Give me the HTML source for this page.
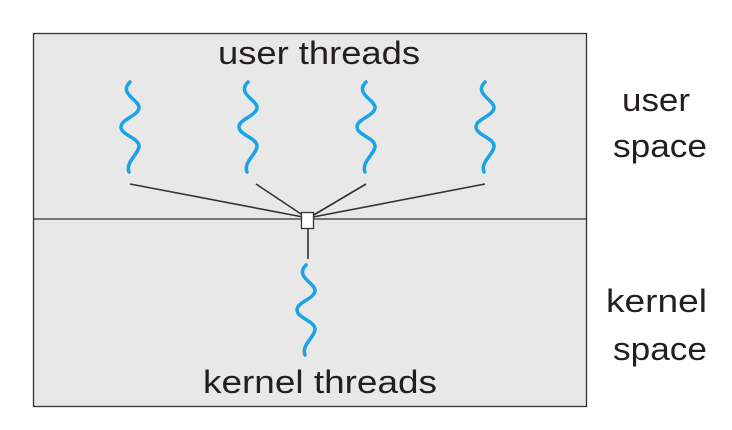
<!DOCTYPE html>
<html><head><style>
body{margin:0;background:#fff;}
svg{display:block;font-family:"Liberation Sans",sans-serif;}
</style></head><body>
<svg width="732" height="430" viewBox="0 0 732 430">
<rect x="33.5" y="33.5" width="553" height="373" fill="#e8e8e8" stroke="#333" stroke-width="1.3"/>
<line x1="33" y1="219" x2="587" y2="219" stroke="#333" stroke-width="1.3"/>
<defs>
<path id="w" d="M0,0 C-12,12 10,18 9,26 C8,34 -9,37 -9,45 C-9,53 9,56 9,64 C9,72 -5,80 -1,90" fill="none" stroke="#1aa3e6" stroke-width="3.5" stroke-linecap="round"/>
</defs>
<use href="#w" x="130" y="82"/>
<use href="#w" x="248" y="82"/>
<use href="#w" x="366" y="82"/>
<use href="#w" x="485" y="82"/>
<use href="#w" x="306" y="265"/>
<g stroke="#333" stroke-width="1.6">
<line x1="130" y1="184" x2="303" y2="217"/>
<line x1="256" y1="184" x2="304" y2="216"/>
<line x1="366" y1="184" x2="312" y2="216"/>
<line x1="485" y1="184" x2="313" y2="217"/>
<line x1="308" y1="229" x2="308" y2="259"/>
</g>
<rect x="301.5" y="212.5" width="12" height="16" fill="#fff" stroke="#333" stroke-width="1.3"/>
<g fill="#231f20" font-size="32">
<text x="218" y="64" textLength="202" lengthAdjust="spacingAndGlyphs">user threads</text>
<text x="203" y="393" textLength="234" lengthAdjust="spacingAndGlyphs">kernel threads</text>
<text x="622" y="111" textLength="68" lengthAdjust="spacingAndGlyphs">user</text>
<text x="613" y="157" textLength="94" lengthAdjust="spacingAndGlyphs">space</text>
<text x="606" y="312" textLength="101" lengthAdjust="spacingAndGlyphs">kernel</text>
<text x="613" y="360" textLength="94" lengthAdjust="spacingAndGlyphs">space</text>
</g>
</svg>
</body></html>
